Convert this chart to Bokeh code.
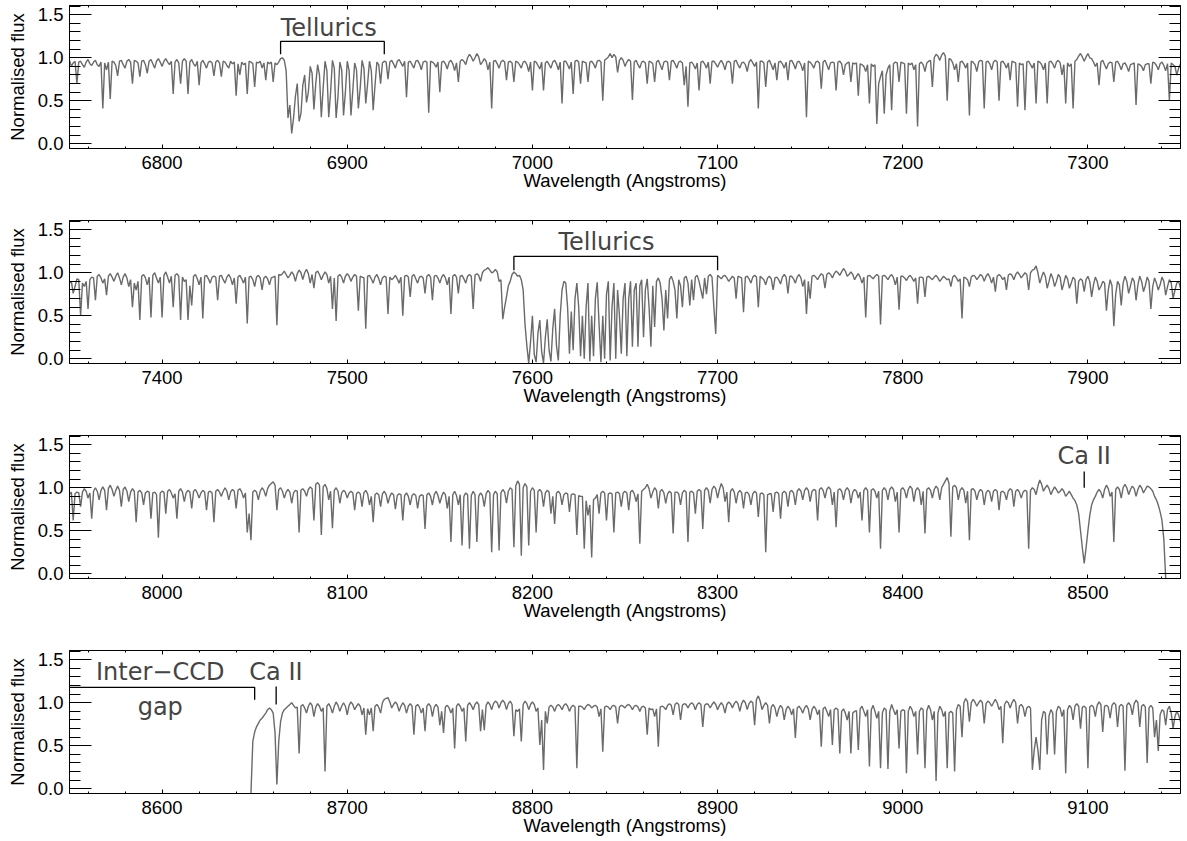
import numpy as np
from bokeh.plotting import figure
from bokeh.models import (LinearAxis, SingleIntervalTicker, Range1d,
                          PrintfTickFormatter, CustomJSTickFormatter)
from bokeh.layouts import column
from bokeh.embed import file_html
from bokeh.resources import INLINE
from bokeh.core.properties import value

# ---------------- data: flux in percent of continuum, sampled every 1 Angstrom ----------------
wave_step = 1

p1_wave_start = 6750
p1_flux_pct = [
    97,90,94,96,70,95,96,92,89,95,98,93,91,95,97,92,90,95,41,94,86,95,52,96,95,91,79,96,97,92,88,96,98,95,70,97,96,94,78,96,97,92,82,96,98,93,88,96,99,95,
    90,96,99,95,92,96,58,95,98,94,70,96,99,96,58,95,98,93,90,96,68,94,97,93,88,95,96,94,79,95,97,94,78,96,95,91,88,96,93,95,56,93,80,95,92,94,58,96,95,93,
    66,95,94,96,88,94,74,95,93,95,72,94,92,95,99,100,97,85,30,45,12,30,55,70,26,35,68,80,48,60,90,82,40,70,92,80,31,65,96,85,31,60,97,88,30,55,95,86,33,60,
    96,85,33,62,94,86,41,65,97,88,47,70,96,85,39,68,95,92,70,94,96,95,75,95,97,93,88,96,98,94,90,96,54,95,96,92,88,96,97,93,86,95,96,95,36,96,95,93,89,95,
    60,95,96,93,87,95,97,93,85,94,72,96,98,96,92,100,104,101,96,100,105,101,92,95,99,96,86,95,41,96,97,93,88,95,97,95,74,95,96,94,72,96,95,92,88,95,96,92,84,95,
    62,96,95,91,87,95,62,94,96,92,88,95,97,93,86,95,47,96,96,92,87,95,58,96,97,95,70,96,95,94,72,95,96,93,88,96,97,95,50,97,99,101,105,100,104,101,83,97,100,97,
    90,95,98,96,51,95,97,92,88,95,96,94,70,96,95,93,72,95,97,92,86,95,96,95,74,96,97,93,88,95,96,94,68,90,43,94,95,92,87,94,62,95,96,93,88,95,70,96,96,93,
    89,94,97,93,86,95,96,94,70,96,97,92,88,94,95,92,84,95,98,94,90,95,41,96,96,94,66,95,97,92,86,94,74,95,96,93,88,95,74,96,97,93,87,95,96,92,85,94,31,96,
    95,92,88,95,96,94,64,95,97,92,86,94,95,94,62,95,96,93,80,92,94,95,72,94,93,94,56,93,92,90,84,92,47,93,90,92,23,70,78,85,35,80,88,92,39,93,95,94,72,95,
    94,93,35,94,92,94,86,92,20,93,95,92,84,94,96,97,66,100,104,102,97,103,106,102,50,99,98,94,86,93,72,95,96,93,88,94,33,96,95,92,84,95,97,96,41,95,96,93,86,95,
    97,95,50,95,96,93,88,94,74,96,95,94,43,94,92,93,39,95,96,92,88,94,47,96,95,92,86,94,47,95,96,93,88,95,97,94,80,92,47,94,90,93,41,96,98,102,105,101,96,101,
    105,100,99,95,90,94,68,95,97,92,87,93,95,94,72,95,96,92,86,93,94,90,84,92,93,94,45,93,92,90,85,92,93,93,70,95,94,91,86,93,95,91,85,93,50,94,92,90,80,88,93,
]

p2_wave_start = 7350
p2_flux_pct = [
    88,90,76,84,93,92,50,88,84,90,58,92,95,94,68,96,98,94,88,93,74,96,99,95,90,96,100,94,86,95,99,94,84,92,60,88,80,90,45,96,98,94,86,95,48,97,100,94,88,95,
    48,97,101,95,88,96,60,97,99,96,45,95,90,92,45,85,62,96,98,93,86,95,47,96,97,93,88,95,96,95,68,96,97,92,88,95,98,94,86,94,64,95,97,93,88,95,41,95,96,92,
    84,95,97,94,80,94,96,93,86,94,95,96,39,98,97,99,102,98,94,97,101,98,90,99,103,100,92,100,104,99,88,98,82,100,102,98,92,97,101,98,88,96,58,94,44,96,98,95,88,96,
    99,96,90,95,98,96,56,96,95,94,35,96,97,93,88,95,98,93,86,94,96,95,52,95,92,94,97,93,88,95,50,96,97,95,72,96,98,93,88,95,96,94,76,96,98,95,68,96,97,94,
    88,95,98,94,86,95,52,96,98,95,76,96,97,93,88,96,98,96,58,97,99,97,90,100,103,104,106,103,100,101,104,101,90,92,46,60,72,85,90,98,101,99,96,97,92,80,40,15,-5,20,
    50,5,-4,30,45,8,-5,25,46,10,-3,35,58,15,-2,50,80,90,88,60,6,55,10,70,88,60,3,50,0,60,88,-3,50,3,70,89,40,-4,50,0,75,90,-2,60,88,0,80,50,6,70,
    88,3,70,90,14,80,88,14,85,92,25,80,93,60,14,85,37,90,94,88,70,33,80,47,92,96,90,80,47,92,85,60,94,96,88,62,92,68,95,97,90,80,70,94,75,96,98,95,60,29,
    97,95,93,96,97,94,90,93,96,94,70,96,95,94,54,95,96,93,88,95,97,95,60,96,94,92,86,94,96,93,80,94,95,92,87,95,98,95,76,96,96,93,88,95,98,94,84,92,52,90,
    70,96,97,95,92,96,99,97,82,98,100,98,94,99,102,100,97,101,105,102,96,98,101,98,92,96,99,95,88,95,48,96,97,95,93,96,98,96,40,96,97,95,92,96,98,94,86,95,57,96,
    96,94,91,95,97,94,90,94,64,95,95,94,72,95,96,94,92,95,97,94,90,93,96,94,92,93,84,95,97,94,90,93,47,95,94,92,84,95,97,96,92,95,98,96,90,96,99,95,88,95,
    78,96,98,96,92,95,80,97,99,97,92,98,101,98,94,97,100,98,80,100,103,104,108,100,88,95,101,96,82,90,99,94,84,90,98,95,80,88,97,93,82,88,95,92,64,90,93,91,78,92,
    96,90,72,86,95,90,80,84,90,88,56,80,92,85,38,75,90,86,62,88,96,90,76,85,94,90,68,86,96,90,78,85,95,90,58,84,94,88,80,86,95,90,74,84,92,88,70,80,88,90,82,
]

p3_wave_start = 7950
p3_flux_pct = [
    92,95,62,93,95,94,78,95,99,96,88,94,64,96,100,96,86,97,101,97,74,99,103,98,90,97,102,97,78,98,101,96,84,95,99,96,60,95,97,94,80,94,96,95,64,94,95,92,42,94,
    96,95,70,96,98,94,88,93,64,96,99,95,84,94,97,95,76,96,98,94,88,94,97,95,74,95,96,94,60,96,98,95,90,96,100,96,86,95,98,96,76,97,99,95,88,94,48,70,39,95,
    97,95,86,96,100,97,90,99,103,105,107,103,74,98,100,96,88,95,98,95,82,94,97,96,48,97,99,96,90,98,101,99,62,104,106,103,45,101,104,99,86,96,53,97,100,96,82,94,97,95,
    88,94,96,94,74,93,95,93,78,94,97,93,80,90,60,92,94,92,78,93,96,92,82,90,94,92,75,91,93,92,62,91,94,90,80,91,93,91,76,90,92,91,52,92,94,90,80,92,96,91,
    82,90,95,92,76,90,37,92,96,91,80,92,33,90,94,92,29,91,96,92,37,90,94,91,78,93,97,94,25,92,96,93,27,94,98,95,82,96,100,98,31,102,108,104,21,100,105,101,33,96,
    100,97,48,96,98,95,78,94,97,95,70,90,58,94,96,93,80,92,94,93,72,92,93,92,45,91,90,90,29,85,68,80,19,86,88,92,70,94,96,94,62,93,94,93,48,94,95,93,78,94,
    96,94,74,95,97,93,84,93,35,96,98,100,104,99,88,95,100,97,76,96,98,94,82,93,96,94,47,95,95,93,80,94,97,95,37,95,96,94,70,96,98,96,52,97,100,97,82,98,102,99,
    88,98,105,100,84,95,60,96,99,95,82,94,97,94,76,94,95,92,80,93,96,94,66,93,94,92,25,92,93,93,72,94,95,93,64,94,96,94,78,95,97,94,80,96,99,96,86,97,100,97,
    84,96,98,97,62,98,100,97,88,98,101,98,80,95,54,97,99,96,86,97,100,97,82,95,98,96,88,95,62,97,100,97,48,97,99,96,88,96,29,97,100,97,86,98,101,98,84,95,48,98,
    100,97,88,98,102,99,84,97,100,97,80,96,47,98,100,97,88,98,102,99,86,100,104,108,112,105,43,101,103,100,86,97,100,97,82,96,39,98,99,96,86,95,98,96,80,94,97,95,84,96,
    98,96,74,95,96,94,86,96,99,97,78,96,98,95,88,95,97,96,29,97,100,98,92,102,109,104,96,100,103,99,92,97,101,98,94,96,99,96,90,93,96,92,88,85,80,70,50,30,12,30,
    50,68,80,86,90,95,98,95,88,98,103,99,90,95,37,98,101,98,88,100,104,100,92,98,102,99,90,98,103,100,94,98,102,101,99,96,90,86,80,72,62,40,-5,
]

p4_wave_start = 8648
p4_flux_pct = [
    -5,55,66,72,76,80,82,85,88,92,94,92,88,65,5,55,78,88,92,94,96,98,100,97,94,95,41,96,98,94,88,96,100,97,84,95,99,96,90,94,20,96,99,95,88,96,101,97,90,96,
    100,96,86,97,101,98,92,96,99,96,86,94,63,93,86,94,67,96,98,95,88,100,104,105,106,101,94,98,101,98,90,96,100,97,88,96,99,96,63,96,98,95,88,94,67,96,99,96,84,95,
    98,95,74,90,65,95,97,94,88,94,47,96,99,96,90,94,55,97,100,97,92,98,101,98,67,92,68,97,101,98,92,99,102,100,94,100,103,100,92,99,102,98,61,92,90,93,55,98,102,99,
    92,98,101,98,90,94,51,80,22,90,76,95,97,95,90,96,98,96,92,97,99,96,90,95,97,95,24,96,96,95,92,96,98,97,94,96,97,95,84,93,43,95,96,95,92,96,97,95,76,95,
    97,96,94,97,98,96,92,96,97,95,90,95,96,94,63,94,92,93,84,93,49,95,96,95,92,97,99,97,86,98,100,98,80,97,99,98,94,98,100,98,92,98,100,98,72,97,99,98,94,98,
    101,98,92,97,100,97,88,98,101,99,94,99,102,99,90,99,103,100,92,99,102,100,74,104,108,102,92,97,100,97,76,95,98,94,84,93,97,94,80,92,96,93,86,93,59,94,96,93,88,94,
    97,93,80,92,96,93,86,92,49,93,95,90,84,92,51,92,94,92,41,90,93,88,80,90,41,88,90,91,45,93,96,90,84,92,26,92,97,90,82,90,24,88,94,92,23,90,98,92,86,92,
    47,90,92,91,18,90,96,92,84,90,40,90,94,92,24,91,97,92,80,90,9,88,96,92,84,90,24,88,90,88,20,92,98,96,60,100,105,101,78,100,104,101,96,100,103,100,76,99,102,100,
    96,100,104,100,92,96,53,98,102,100,94,100,104,100,76,96,98,95,84,94,96,94,22,45,60,45,22,80,90,88,40,85,92,88,40,90,96,94,84,92,18,92,97,94,80,96,99,96,70,95,
    96,94,24,95,97,95,84,97,101,98,66,96,97,95,82,97,100,98,72,96,98,96,21,97,100,97,86,99,103,100,72,96,98,95,30,94,97,94,60,80,44,86,92,90,74,92,96,88,70,84,90,86,78,
]

panel_x_ranges = [(6750, 7350), (7350, 7950), (7950, 8550), (8550, 9150)]
y_limits = (-0.055, 1.608)

# annotations (text, wavelength, flux)
annot_texts = [
    [("Tellurics", 6890, 1.35)],
    [("Tellurics", 7640, 1.36)],
    [("Ca II", 8498, 1.37)],
    [("Inter\u2212CCD", 8599, 1.36), ("gap", 8599, 0.95), ("Ca II", 8661.5, 1.36)],
]
annot_lines = [
    [([6864, 6864, 6920, 6920], [1.04, 1.19, 1.19, 1.04])],
    [([7590, 7590, 7700, 7700], [1.03, 1.19, 1.19, 1.03])],
    [([8498, 8498], [1.00, 1.19])],
    [([8550, 8650, 8650], [1.18, 1.18, 1.035]), ([8661.6, 8661.6], [0.98, 1.19])],
]

# ---------------- figure ----------------
SPEC_COLOR = "#6a6a6a"
AX_FONT = "Liberation Sans"
AX_SIZE = "18.5px"

spectra = [(p1_wave_start, p1_flux_pct), (p2_wave_start, p2_flux_pct),
           (p3_wave_start, p3_flux_pct), (p4_wave_start, p4_flux_pct)]

heights = [215, 215, 215, 196]
bottoms = [67, 67, 67, 48]

figs = []
for k in range(4):
    start, pct = spectra[k]
    wave = start + wave_step * np.arange(len(pct))
    flux = np.array(pct, dtype=float) / 100.0

    p = figure(width=1183, height=heights[k],
               x_range=Range1d(*panel_x_ranges[k]), y_range=Range1d(*y_limits),
               output_backend="svg", toolbar_location=None,
               min_border_left=69, min_border_right=3,
               min_border_top=5, min_border_bottom=bottoms[k])
    p.grid.visible = False
    p.outline_line_color = "black"
    p.outline_line_width = 1
    p.background_fill_color = "white"
    p.border_fill_color = "white"

    p.line(wave, flux, line_color=SPEC_COLOR, line_width=1.4)

    for xs, ys in annot_lines[k]:
        p.line(xs, ys, line_color="black", line_width=1.3)
    p.text(x=[t[1] for t in annot_texts[k]], y=[t[2] for t in annot_texts[k]],
           text=[t[0] for t in annot_texts[k]],
           text_font=value("DejaVu Sans"), text_font_size="24px",
           text_align="center", text_baseline="alphabetic", text_color="#444444")

    # bottom axis
    xa = p.xaxis[0]
    xa.ticker = SingleIntervalTicker(interval=100, num_minor_ticks=5)
    xa.axis_label = "Wavelength (Angstroms)"
    # left axis
    ya = p.yaxis[0]
    ya.ticker = SingleIntervalTicker(interval=0.5, num_minor_ticks=5)
    ya.formatter = PrintfTickFormatter(format="%.1f")
    ya.axis_label = "Normalised flux"

    top = LinearAxis(ticker=SingleIntervalTicker(interval=100, num_minor_ticks=5),
                     formatter=CustomJSTickFormatter(code="return ''"))
    right = LinearAxis(ticker=SingleIntervalTicker(interval=0.5, num_minor_ticks=5),
                       formatter=CustomJSTickFormatter(code="return ''"))
    p.add_layout(top, "above")
    p.add_layout(right, "right")

    for ax in (xa, top):
        ax.major_tick_in = 4
        ax.major_tick_out = 0
        ax.minor_tick_in = 2
        ax.minor_tick_out = 0
    for ax in (ya, right):
        ax.major_tick_in = 22
        ax.major_tick_out = 0
        ax.minor_tick_in = 11
        ax.minor_tick_out = 0
    for ax in (xa, ya, top, right):
        ax.axis_line_color = "black"
        ax.major_tick_line_color = "black"
        ax.minor_tick_line_color = "black"
        ax.major_label_text_font = AX_FONT
        ax.major_label_text_font_size = AX_SIZE
        ax.major_label_text_color = "black"
        ax.axis_label_text_font = AX_FONT
        ax.axis_label_text_font_size = AX_SIZE
        ax.axis_label_text_font_style = "normal"
        ax.axis_label_text_color = "black"
    for ax in (top, right):
        ax.major_label_standoff = 0
        ax.major_label_text_font_size = "0px"
    xa.major_label_standoff = 7
    xa.axis_label_standoff = -2
    ya.major_label_standoff = 6
    ya.axis_label_standoff = 7
    figs.append(p)

layout = column(*figs)
open("out.html", "w").write(file_html(layout, INLINE))
